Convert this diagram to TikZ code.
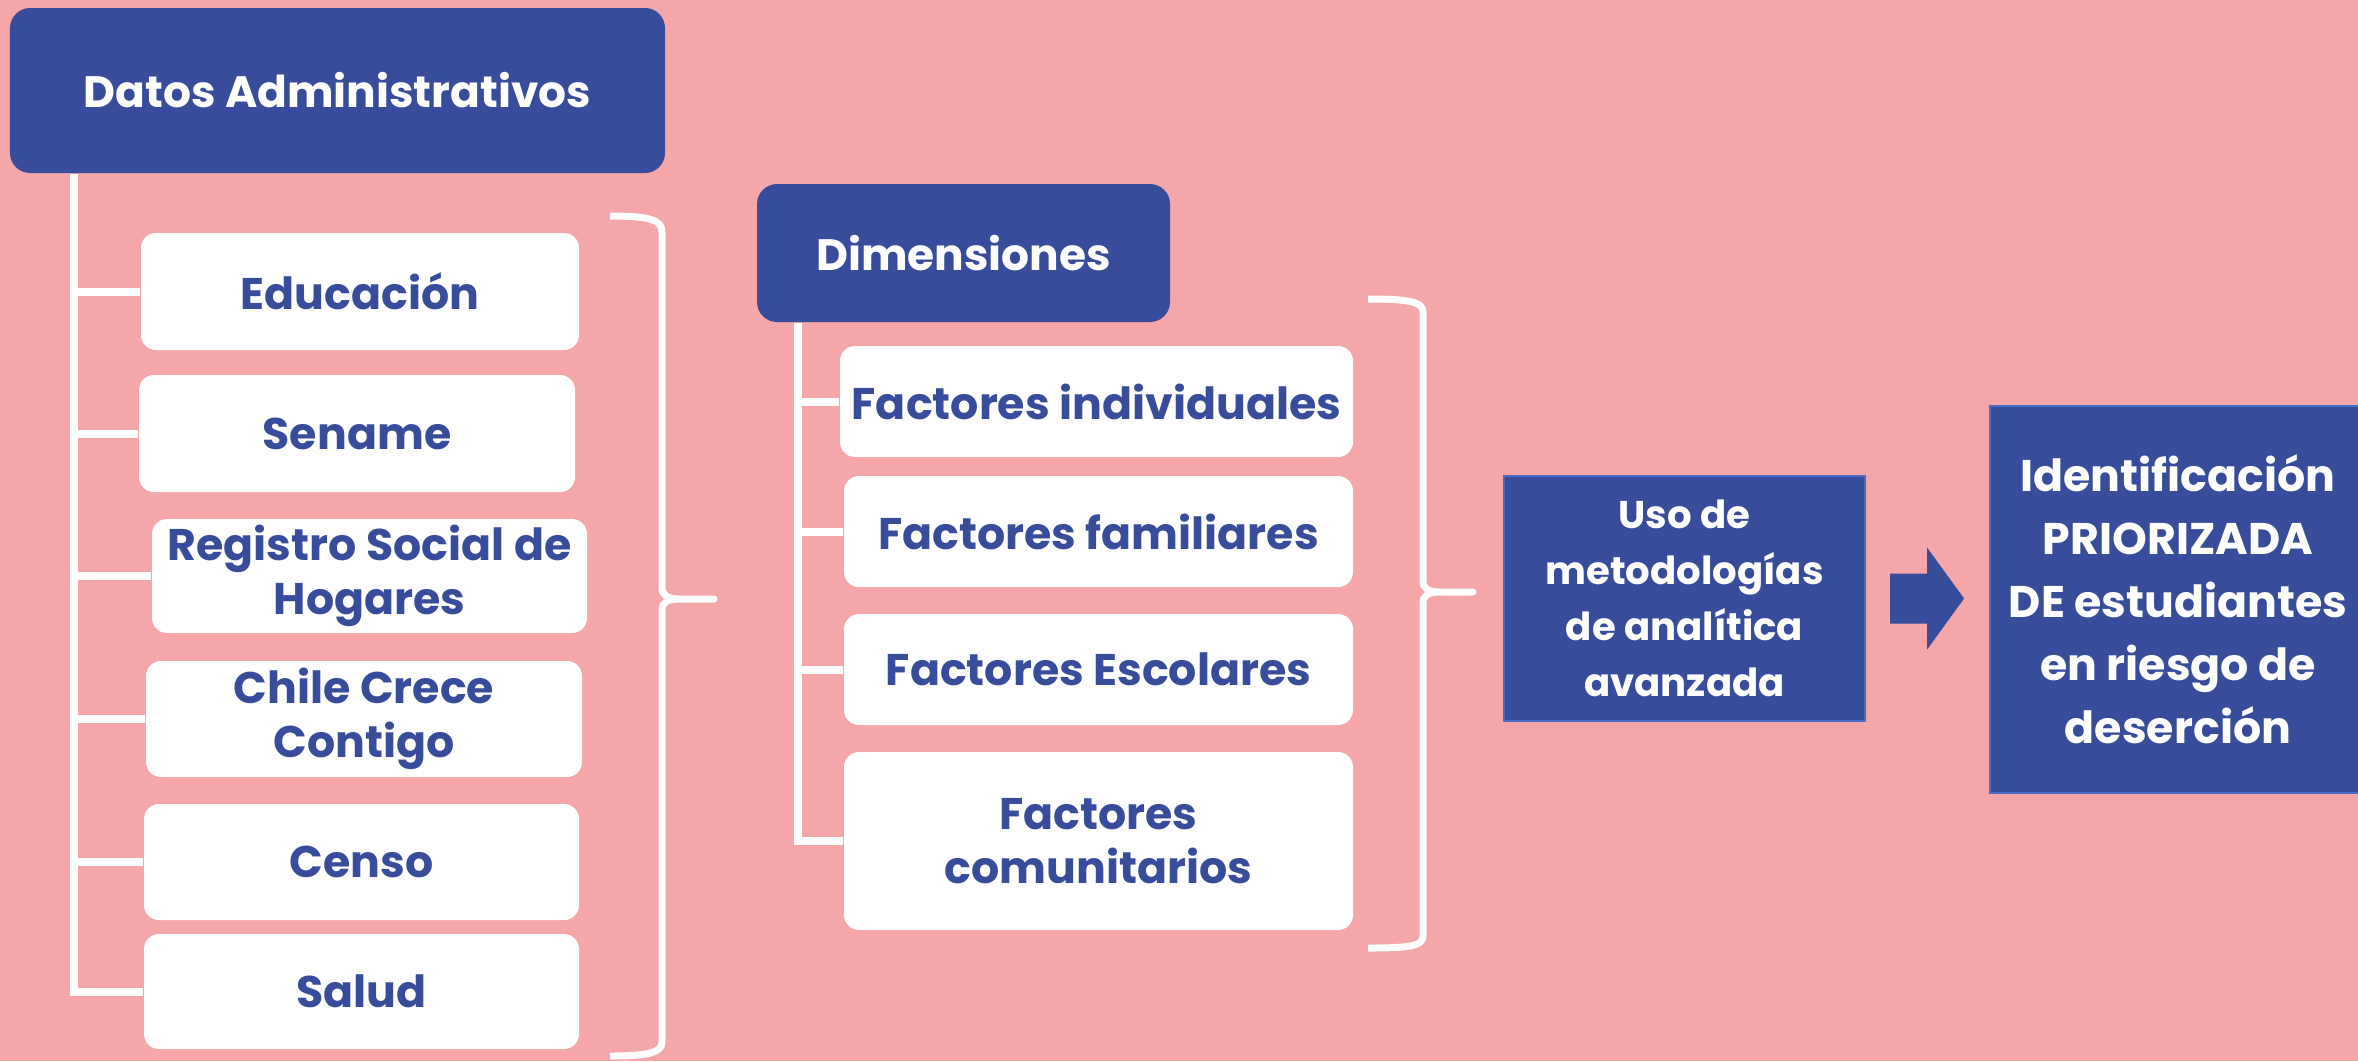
\documentclass[tikz,border=0pt]{standalone}
\usepackage{fontspec}
\setmainfont{Poppins}
\usepackage{tikz}
\usetikzlibrary{positioning}
\definecolor{bgpink}{RGB}{244,166,168}
\definecolor{darkblue}{RGB}{55,77,155}
\definecolor{edgeblue}{RGB}{72,108,196}
\tikzstyle{head} = [rectangle, rounded corners=0.2cm, fill=darkblue, text=white, inner sep=0pt, align=center, font=\bfseries\fontsize{12.5pt}{15.4pt}\selectfont]
\tikzstyle{item} = [rectangle, rounded corners=0.15cm, fill=white, text=darkblue, inner sep=0pt, align=center, font=\bfseries\fontsize{12.6pt}{15.4pt}\selectfont]
\tikzstyle{result} = [rectangle, fill=darkblue, draw=edgeblue, line width=0.6pt, text=white, inner sep=0pt, align=center]
\tikzstyle{stem} = [white, line width=0.08cm]
\tikzstyle{brace_line} = [white, line width=0.07cm, line join=round]

\begin{document}
\begin{tikzpicture}
    \fill[bgpink] (0,0) rectangle (23.58,-10.61);
    \useasboundingbox (0,0) rectangle (23.58,-10.61);

    % datos administrativos
    \node (datos) [head, minimum width=6.55cm, minimum height=1.65cm] at (3.375,-0.905) {Datos Administrativos};
    \node (educ) [item, minimum width=4.38cm, minimum height=1.17cm] at (3.60,-2.915) {Educación};
    \node (sename) [item, minimum width=4.36cm, minimum height=1.17cm] at (3.57,-4.335) {Sename};
    \node (registro) [item, minimum width=4.35cm, minimum height=1.14cm] at (3.695,-5.76) {Registro Social de\\Hogares};
    \node (chile) [item, minimum width=4.36cm, minimum height=1.16cm] at (3.64,-7.19) {Chile Crece\\Contigo};
    \node (censo) [item, minimum width=4.35cm, minimum height=1.16cm] at (3.615,-8.62) {Censo};
    \node (salud) [item, minimum width=4.35cm, minimum height=1.15cm] at (3.615,-9.915) {Salud};

    \coordinate (datos_stem) at ([xshift=0.65cm]datos.south west);
    \draw[stem] (datos_stem) |- (salud.west);
    \foreach \n in {educ, sename, registro, chile, censo}
        \draw[stem] (\n.west) -- (\n.west -| datos_stem);

    \draw[brace_line] (6.10,-2.16) .. controls (6.50,-2.16) and (6.62,-2.20) .. (6.62,-2.32) -- (6.62,-5.87) .. controls (6.62,-5.96) and (6.68,-5.99) .. (6.80,-5.99) -- (7.14,-5.99) -- (6.80,-5.99) .. controls (6.68,-5.99) and (6.62,-6.02) .. (6.62,-6.10) -- (6.62,-10.42) .. controls (6.62,-10.52) and (6.50,-10.56) .. (6.10,-10.56);

    % dimensiones
    \node (dim) [head, minimum width=4.13cm, minimum height=1.38cm] at (9.635,-2.53) {Dimensiones};
    \node (find) [item, minimum width=5.13cm, minimum height=1.11cm] at (10.965,-4.015) {Factores individuales};
    \node (ffam) [item, minimum width=5.09cm, minimum height=1.11cm] at (10.985,-5.315) {Factores familiares};
    \node (fesc) [item, minimum width=5.09cm, minimum height=1.11cm] at (10.985,-6.695) {Factores Escolares};
    \node (fcom) [item, minimum width=5.09cm, minimum height=1.78cm] at (10.985,-8.41) {Factores\\comunitarios};

    \coordinate (dim_stem) at ([xshift=0.42cm]dim.south west);
    \draw[stem] (dim_stem) |- (fcom.west);
    \foreach \n in {find, ffam, fesc}
        \draw[stem] (\n.west) -- (\n.west -| dim_stem);

    \draw[brace_line] (13.68,-2.99) .. controls (14.10,-2.99) and (14.23,-3.02) .. (14.23,-3.12) -- (14.23,-5.81) .. controls (14.23,-5.89) and (14.29,-5.92) .. (14.40,-5.92) -- (14.73,-5.92) -- (14.40,-5.92) .. controls (14.29,-5.92) and (14.23,-5.95) .. (14.23,-6.03) -- (14.23,-9.36) .. controls (14.23,-9.46) and (14.10,-9.48) .. (13.68,-9.48);

    % resultado
    \node (uso) [result, minimum width=3.61cm, minimum height=2.45cm, font=\bfseries\fontsize{11pt}{15.9pt}\selectfont] at (16.845,-5.985) {Uso de\\metodologías\\de analítica\\avanzada};
    \node (ident) [result, minimum width=3.76cm, minimum height=3.87cm, font=\bfseries\fontsize{12.6pt}{17.9pt}\selectfont] at (21.78,-5.995) {Identificación\\PRIORIZADA\\DE estudiantes\\en riesgo de\\deserción};

    \fill[darkblue] ([xshift=0.24cm, yshift=0.25cm]uso.east) -- ++(0.37,0) -- ++(0,0.26) -- ++(0.37,-0.51) -- ++(-0.37,-0.51) -- ++(0,0.26) -- ++(-0.37,0) -- cycle;
\end{tikzpicture}
\end{document}
